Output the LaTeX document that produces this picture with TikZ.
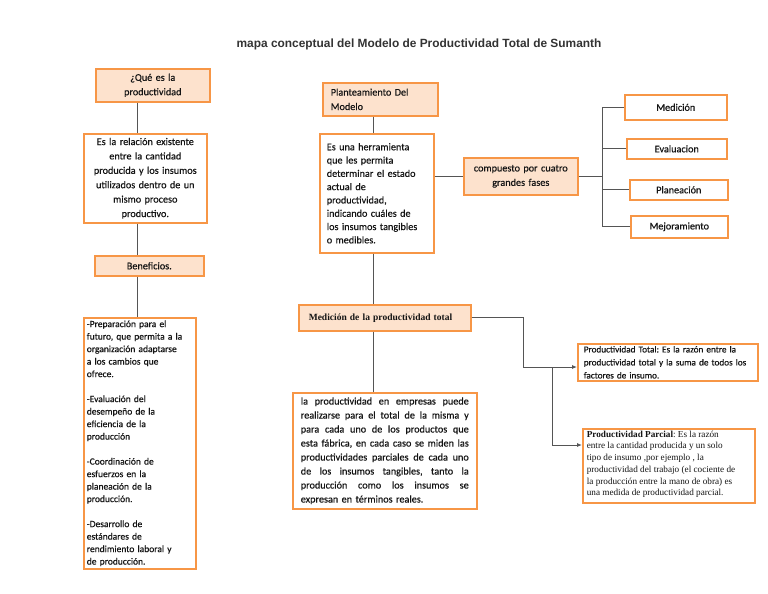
\documentclass[tikz,border=0pt]{standalone}
\usepackage{fontspec}
\setmainfont{Carlito}[FakeBold=0.4]
\newfontfamily\serifF{Liberation Serif}
\newfontfamily\titleF{Liberation Sans}
\usetikzlibrary{arrows.meta}
\frenchspacing
\definecolor{obord}{HTML}{F79646}
\definecolor{ofill}{HTML}{FDE2CD}
\definecolor{lnc}{HTML}{555555}
\definecolor{txt}{HTML}{141414}
\definecolor{titlec}{HTML}{333333}
\newcommand\jline[1]{\leavevmode\hbox to 168pt{\spaceskip=0.25em plus 1em minus 0.1em\relax #1}}
\tikzset{
  bx/.style={draw=obord, line width=1.6pt, anchor=north west, inner sep=0pt, text=txt,
    font=\fontsize{10.2}{14.4}\selectfont},
  pe/.style={bx, fill=ofill},
  wh/.style={bx, fill=white},
  conn/.style={draw=lnc, line width=0.9pt},
  arr/.style={conn, -{Latex[length=5pt,width=4pt]}},
}
\begin{document}
\begin{tikzpicture}[x=1pt,y=-1pt]
\useasboundingbox (0,0) rectangle (768,594);
\fill[white] (0,0) rectangle (768,594);

\node[font=\titleF\bfseries\fontsize{11.9}{14}\selectfont, text=titlec] (title) at (419,44)
  {mapa conceptual del Modelo de Productividad Total de Sumanth};

% left column
\node[pe, minimum width=114pt, minimum height=33pt, text width=110pt, align=center] (q) at (95,68)
  {¿Qué es la\\productividad};
\node[wh, minimum width=123pt, minimum height=89pt, text width=121pt, align=center] (rel) at (83,133)
  {Es la relación existente\\entre la cantidad\\producida y los insumos\\utilizados dentro de un\\mismo proceso\\productivo.};
\node[pe, minimum width=109pt, minimum height=20pt, text width=105pt, align=center] (ben) at (94,255)
  {Beneficios.};
\node[wh, minimum width=112pt, minimum height=251pt, text width=106pt, align=left,
  font=\fontsize{9.5}{12.5}\selectfont] (list) at (83,317)
  {-Preparación para el\\futuro, que permita a la\\organización adaptarse\\a los cambios que\\ofrece.\\[12.5pt]%
   -Evaluación del\\desempeño de la\\eficiencia de la\\producción\\[12.5pt]%
   -Coordinación de\\esfuerzos en la\\planeación de la\\producción.\\[12.5pt]%
   -Desarrollo de\\estándares de\\rendimiento laboral y\\de producción.};

\coordinate (lx) at (137,0);
\draw[conn] (lx |- q.south) -- (lx |- rel.north);
\draw[conn] (lx |- rel.south) -- (lx |- ben.north);
\draw[conn] (lx |- ben.south) -- (lx |- list.north);

% middle column
\node[pe, minimum width=115pt, minimum height=33pt, text width=99pt, align=left] (plan) at (322,82)
  {Planteamiento Del\\Modelo};
\node[wh, minimum width=114pt, minimum height=119pt, text width=100pt, align=left,
  font=\fontsize{10.2}{13.3}\selectfont] (herr) at (319,133)
  {Es una herramienta\\que les permita\\determinar el estado\\actual de\\productividad,\\indicando cuáles de\\los insumos tangibles\\o medibles.};
\node[pe, minimum width=114pt, minimum height=37pt, text width=110pt, align=center] (comp) at (463,157)
  {compuesto por cuatro\\grandes fases};

\node[wh, minimum width=102pt, minimum height=25pt] (med) at (624,94) {Medición};
\node[wh, minimum width=100pt, minimum height=20pt] (eva) at (626,138) {Evaluacion};
\node[wh, minimum width=98pt, minimum height=20pt] (pla) at (629,179) {Planeación};
\node[wh, minimum width=97pt, minimum height=22pt] (mej) at (630,215) {Mejoramiento};

\coordinate (mx) at (373,0);
\draw[conn] (mx |- plan.south) -- (mx |- herr.north);
\draw[conn] (herr.east |- comp.west) -- (comp.west);

\coordinate (bx) at (602,0);
\draw[conn] (comp.east) -- (bx |- comp.east);
\draw[conn] (med.west) -- (bx |- med.west) -- (bx |- mej.west) -- (mej.west);
\draw[conn] (bx |- eva.west) -- (eva.west);
\draw[conn] (bx |- pla.west) -- (pla.west);

\node[pe, minimum width=172pt, minimum height=26pt, text width=152pt, align=left,
  font=\serifF\bfseries\fontsize{9.5}{11}\selectfont] (mt) at (298,304)
  {Medición de la productividad total};
\node[wh, minimum width=184pt, minimum height=116pt, text width=168pt, align=left,
  font=\fontsize{10.2}{14}\selectfont] (para) at (292,392)
  {\jline{la productividad en empresas puede}\\
   \jline{realizarse para el total de la misma y}\\
   \jline{para cada uno de los productos que}\\
   \jline{esta fábrica, en cada caso se miden las}\\
   \jline{productividades parciales de cada uno}\\
   \jline{de los insumos tangibles, tanto la}\\
   \jline{producción como los insumos se}\\
   expresan en términos reales.};

\draw[conn] (mx |- herr.south) -- (mx |- mt.north);
\draw[conn] (mx |- mt.south) -- (mx |- para.north);

% right lower
\node[wh, minimum width=180pt, minimum height=37pt, text width=168pt, align=left,
  font=\fontsize{9.2}{13}\selectfont] (pt) at (577,343)
  {Productividad Total: Es la razón entre la\\productividad total y la suma de todos los\\factores de insumo.};
\node[wh, minimum width=172pt, minimum height=74pt] (pp) at (582,428)
  {\parbox[c][70pt][t]{164pt}{\raggedright\serifF\fontsize{9.2}{11.7}\selectfont
   \textbf{Productividad Parcial}: Es la razón\\entre la cantidad producida y un solo\\tipo de insumo ,por ejemplo , la\\productividad del trabajo (el cociente de\\la producción entre la mano de obra) es\\una medida de productividad parcial.}};

\coordinate (e1) at (523,367);
\coordinate (e2) at (552,367);
\coordinate (e3) at (552,445);
\draw[arr] (mt.east) -| (e1) -- (e1 -| pt.west);
\draw[arr] (e2) -- (e3) -- (e3 -| pp.west);
\end{tikzpicture}
\end{document}
